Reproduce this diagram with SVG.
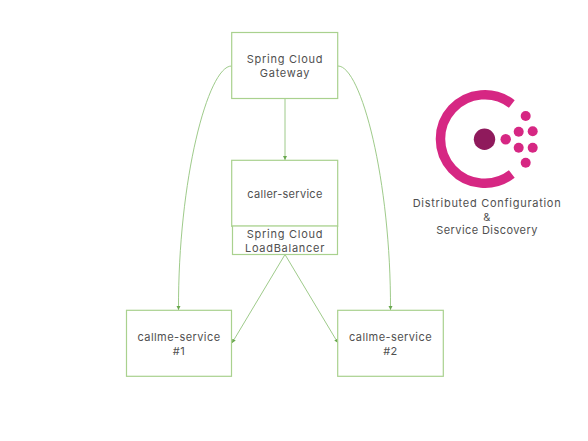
<svg xmlns="http://www.w3.org/2000/svg" width="588" height="441" viewBox="0 0 588 441">
<style>
.box{fill:#fff;stroke:#a9d18e;stroke-width:1.2}
.t{font-family:"Inter","Noto Sans",sans-serif;font-size:11px;fill:#505050;text-anchor:middle;letter-spacing:.42px}
.w{letter-spacing:.72px}
.n{letter-spacing:.3px}
.c{fill:none;stroke:#93c47d;stroke-width:.9}
.d{fill:#d62783}
</style>
<defs><marker id="a" markerWidth="5" markerHeight="5" refX="4" refY="2.5" orient="auto" markerUnits="userSpaceOnUse"><path d="M0,.5L4,2.5L0,4.5z" fill="#6aa84f"/></marker></defs>
<rect width="588" height="441" fill="#fff"/>
<g id="connectors">
<path class="c" marker-end="url(#a)" d="M285,98.500V160"/>
<path class="c" marker-end="url(#a)" d="M231.500,66C208,66 178,180 178.500,310"/>
<path class="c" marker-end="url(#a)" d="M338,66C361,66 391,180 390.500,310"/>
<path class="c" marker-end="url(#a)" d="M285,254.500L232,343"/>
<path class="c" marker-end="url(#a)" d="M285,254.500L338,343"/>
</g>
<g id="gateway"><rect class="box" x="231.700" y="32.500" width="106" height="66"/><text class="t w" x="285" y="63.300">Spring Cloud</text><text class="t w" x="285" y="76.800">Gateway</text></g>
<g id="caller-service"><rect class="box" x="231.700" y="160.300" width="106" height="66"/><text class="t n" x="285" y="197.500">caller-service</text></g>
<g id="loadbalancer"><rect class="box" x="232.500" y="226" width="105" height="28.500"/><text class="t w" x="285" y="238">Spring Cloud</text><text class="t w" x="285" y="251.500">LoadBalancer</text></g>
<g id="callme-1"><rect class="box" x="126.500" y="310.300" width="105" height="66"/><text class="t" x="179" y="341">callme-service</text><text class="t" x="179" y="354.500">#1</text></g>
<g id="callme-2"><rect class="box" x="337.700" y="310.300" width="105.600" height="66"/><text class="t" x="390.500" y="341">callme-service</text><text class="t" x="390.500" y="354.500">#2</text></g>
<g id="consul">
<path d="M511.800,103.900A44.300,44.300 0 1 0 511.800,174.100" fill="none" stroke="#d62783" stroke-width="9.500"/>
<circle cx="484.500" cy="139.300" r="10.700" fill="#8f1a5c"/>
<circle class="d" cx="505.700" cy="139.300" r="5.200"/>
<circle class="d" cx="518.700" cy="131.700" r="5"/>
<circle class="d" cx="532.700" cy="131.200" r="5"/>
<circle class="d" cx="518.700" cy="147.700" r="5"/>
<circle class="d" cx="532.700" cy="147.700" r="5"/>
<circle class="d" cx="525.700" cy="116" r="5"/>
<circle class="d" cx="525.700" cy="162.700" r="5"/>
<text class="t w" x="487" y="207">Distributed Configuration</text>
<text class="t" x="487" y="220.500">&amp;</text>
<text class="t" x="487" y="234">Service Discovery</text>
</g>
</svg>
